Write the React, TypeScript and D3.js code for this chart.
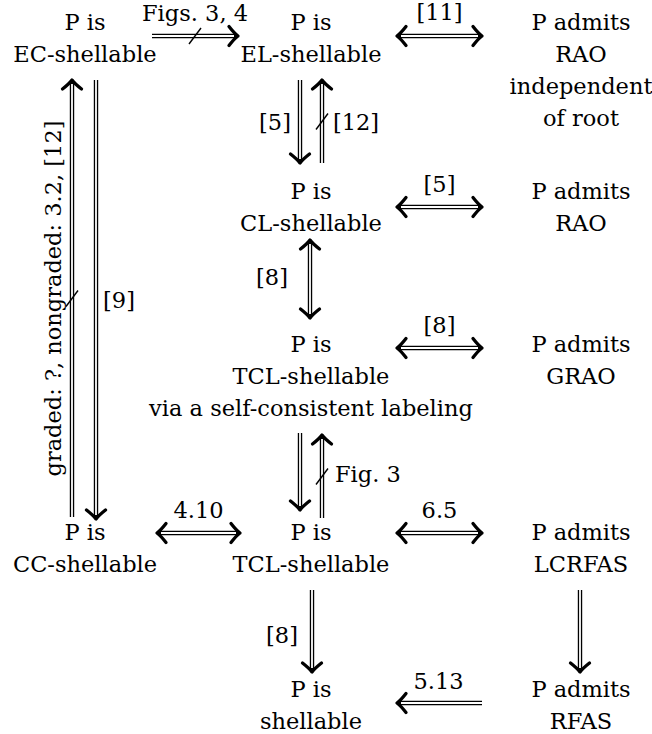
import React from "react";
import * as d3 from "d3";

// ---------- data ----------
const nodeIds = ["EC", "EL", "RAOI", "CL", "RAO", "TCLV", "GRAO", "CC", "TCL", "LCRFAS", "SH", "RFAS"];
const nodeLines = [
  ["P is", "EC-shellable"],
  ["P is", "EL-shellable"],
  ["P admits", "RAO", "independent", "of root"],
  ["P is", "CL-shellable"],
  ["P admits", "RAO"],
  ["P is", "TCL-shellable", "via a self-consistent labeling"],
  ["P admits", "GRAO"],
  ["P is", "CC-shellable"],
  ["P is", "TCL-shellable"],
  ["P admits", "LCRFAS"],
  ["P is", "shellable"],
  ["P admits", "RFAS"],
];
const nodeCols = [0, 1, 2, 1, 2, 1, 2, 0, 1, 2, 1, 2];
const nodeRows = [0, 0, 0, 1, 1, 2, 2, 3, 3, 3, 4, 4];

// edges: from, to, heads, label, negated
const edgeFrom = ["EC", "EL", "EL", "CL", "CL", "CL", "TCLV", "TCLV", "TCL", "EC", "CC", "CC", "TCL", "LCRFAS", "TCL", "RFAS"];
const edgeTo = ["EL", "RAOI", "CL", "EL", "RAO", "TCLV", "GRAO", "TCL", "TCLV", "CC", "EC", "TCL", "LCRFAS", "RFAS", "SH", "SH"];
const edgeHeads = ["end", "both", "end", "end", "both", "both", "both", "end", "end", "end", "end", "both", "both", "end", "end", "end"];
const edgeLabels = ["Figs. 3, 4", "[11]", "[5]", "[12]", "[5]", "[8]", "[8]", "", "Fig. 3", "[9]", "graded: ?, nongraded: 3.2, [12]", "4.10", "6.5", "", "[8]", "5.13"];
const edgeNegated = [true, false, false, true, false, false, false, false, true, false, true, false, false, false, false, false];

// ---------- layout ----------
const W = 652, H = 734;
const FONT = "DejaVu Serif";
const FS = 22.5;
const LINE = 32;

const colX = d3.scaleOrdinal<number, number>().domain([0, 1, 2]).range([85, 311, 581]);
const rowY = d3.scaleOrdinal<number, number>().domain([0, 1, 2, 3, 4]).range([30, 199, 352, 540, 697]);

// per-edge geometry: offsets from the from-node / to-node anchor (col x, first baseline)
const edgeGeom: [number, number, number, number][] = [
  [67, 6, -73, 6],      // EC -> EL
  [86, 6, -99, 6],      // EL <-> RAOI
  [-11, 50, -11, -36],  // EL -> CL
  [11, -36, 11, 50],    // CL -> EL
  [86, 8, -99, 8],      // CL <-> RAO
  [-1, 41, -1, -34],    // CL <-> TCLV
  [86, -4, -99, -4],    // TCLV <-> GRAO
  [-11, 81, -11, -30],  // TCLV -> TCL
  [11, -22, 11, 83],    // TCL -> TCLV
  [11, 50, 11, -21],    // EC -> CC
  [-13, -23, -13, 50],  // CC -> EC
  [72, -7, -71, -7],    // CC <-> TCL
  [86, -7, -99, -7],    // TCL <-> LCRFAS
  [-1, 50, -1, -25],    // LCRFAS -> RFAS
  [1, 50, 1, -25],      // TCL -> SH
  [-99, 6, 86, 6],      // RFAS -> SH
];
// label placement relative to arrow midpoint
const labelPos: [number, number, string][] = [
  [0, -15, "middle"],
  [0, -16, "middle"],
  [-25, 8, "middle"],
  [34, 8, "middle"],
  [0, -15, "middle"],
  [-38, 6, "middle"],
  [0, -15, "middle"],
  [0, 0, "middle"],
  [13, 5, "start"],
  [23, 8, "middle"],
  [-11, 0, "rot"],
  [0, -15, "middle"],
  [0, -15, "middle"],
  [0, 0, "middle"],
  [-30, 12, "middle"],
  [-1, -14, "middle"],
];

function nodePos(id: string) {
  const i = nodeIds.indexOf(id);
  return { x: colX(nodeCols[i]), y: rowY(nodeRows[i]) };
}

function T({ x, y, anchor = "middle", rot, children }: any) {
  if (rot) {
    return (
      <text transform={`translate(${x},${y}) rotate(${rot})`} textAnchor={anchor} fontFamily={FONT} fontSize={FS}>
        {children}
      </text>
    );
  }
  return (
    <text x={x} y={y} textAnchor={anchor} fontFamily={FONT} fontSize={FS}>
      {children}
    </text>
  );
}

function Arrow({ x1, y1, x2, y2, heads, slash }: any) {
  const len = Math.hypot(x2 - x1, y2 - y1);
  const ux = (x2 - x1) / len, uy = (y2 - y1) / len;
  const both = heads === "both";
  const sb = both ? 2 : 0, sw = both ? 4 : 0;
  const ang = (Math.atan2(uy, ux) * 180) / Math.PI;
  const head = "M -9 -9.5 Q -3.5 -2.5 0 0 Q -3.5 2.5 -9 9.5";
  const mx = (x1 + x2) / 2, my = (y1 + y2) / 2;
  return (
    <g>
      <line x1={x1 + ux * sb} y1={y1 + uy * sb} x2={x2 - ux * 2} y2={y2 - uy * 2} stroke="#000" strokeWidth={4.4} />
      <line x1={x1 + ux * sw} y1={y1 + uy * sw} x2={x2 - ux * 4} y2={y2 - uy * 4} stroke="#fff" strokeWidth={1.8} />
      <path d={head} transform={`translate(${x2},${y2}) rotate(${ang})`} fill="none" stroke="#000" strokeWidth={3.3} strokeLinecap="round" strokeLinejoin="round" />
      {both && (
        <path d={head} transform={`translate(${x1},${y1}) rotate(${ang + 180})`} fill="none" stroke="#000" strokeWidth={3.3} strokeLinecap="round" strokeLinejoin="round" />
      )}
      {slash && <line x1={mx - 6} y1={my + 8} x2={mx + 6} y2={my - 8} stroke="#000" strokeWidth={1.4} />}
    </g>
  );
}

export default function App() {
  return (
    <svg width={W} height={H} style={{ position: "absolute", left: 0, top: 0 }}>
      {nodeIds.map((id, i) => {
        const p = nodePos(id);
        return (
          <g key={id}>
            {nodeLines[i].map((t, j) => (
              <T key={j} x={p.x} y={p.y + j * LINE}>
                {t}
              </T>
            ))}
          </g>
        );
      })}
      {edgeFrom.map((f, i) => {
        const a = nodePos(f), b = nodePos(edgeTo[i]);
        const g = edgeGeom[i];
        const x1 = a.x + g[0], y1 = a.y + g[1], x2 = b.x + g[2], y2 = b.y + g[3];
        const mx = (x1 + x2) / 2, my = (y1 + y2) / 2;
        const [ldx, ldy, anchor] = labelPos[i];
        const lx = mx + ldx, ly = my + ldy;
        return (
          <g key={i}>
            <Arrow x1={x1} y1={y1} x2={x2} y2={y2} heads={edgeHeads[i]} slash={edgeNegated[i]} />
            {edgeLabels[i] && (
              <T x={lx} y={ly} anchor={anchor === "rot" ? "middle" : anchor} rot={anchor === "rot" ? -90 : 0}>
                {edgeLabels[i]}
              </T>
            )}
          </g>
        );
      })}
    </svg>
  );
}
